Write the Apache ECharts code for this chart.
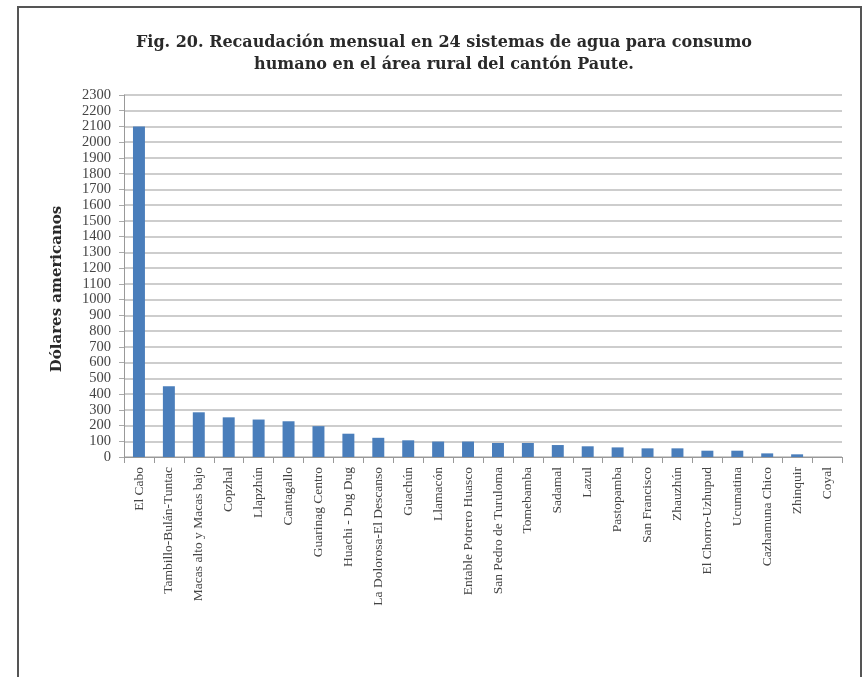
<!DOCTYPE html>
<html>
<head>
<meta charset="utf-8">
<script src="https://cdn.jsdelivr.net/npm/echarts@6/dist/echarts.min.js"></script>
<style>html,body{margin:0;padding:0;background:#fff;}#c{width:863px;height:677px;}</style>
</head>
<body>
<div id="c"></div>
<script>
const categories = ["El Cabo","Tambillo-Bulán-Tuntac","Macas alto y Macas bajo","Copzhal","Llapzhún","Cantagallo","Guarinag Centro","Huachi - Dug Dug","La Dolorosa-El Descanso","Guachún","Llamacón","Entable Potrero Huasco","San Pedro de Turuloma","Tomebamba","Sadamal","Lazul","Pastopamba","San Francisco","Zhauzhún","El Chorro-Uzhupud","Ucumatina","Cazhamuna Chico","Zhinquir","Coyal"];
const values = [2100,450,284,252,238,227,196,148,122,106,98,98,89,89,76,68,61,55,55,40,40,23,17,0];
const yTicks = {min:0, max:2300, interval:100};
const titleLines = ["Fig. 20. Recaudación mensual en 24 sistemas de agua para consumo","humano en el área rural del cantón Paute."];
const yName = "Dólares americanos";

const chart = echarts.init(document.getElementById('c'));
const serif = '"Liberation Serif", "DejaVu Serif", serif';
const wideSerif = '"DejaVu Serif", "Liberation Serif", serif';
chart.setOption({
  animation:false,
  backgroundColor:'#fff',
  title:{
    text: titleLines.join('\n'),
    left:439, textAlign:'center', top:27,
    textStyle:{fontFamily:wideSerif, fontWeight:'bold', fontSize:16, color:'#2a2a2a', lineHeight:22}
  },
  graphic:[
    {type:'rect', shape:{x:18,y:7,width:843,height:720}, style:{fill:'none', stroke:'#555', lineWidth:2}, silent:true},
    {type:'text', x:57, y:289, rotation:Math.PI/2, style:{text:yName, font:'bold 15px ' + wideSerif, fill:'#2a2a2a', align:'center', verticalAlign:'middle'}, silent:true}
  ],
  grid:{left:124, right:21, top:95, bottom:220},
  xAxis:{
    type:'category', data:categories,
    axisLine:{lineStyle:{color:'#999'}},
    axisTick:{show:true, length:6, lineStyle:{color:'#999'}},
    axisLabel:{rotate:90, interval:0, fontFamily:serif, fontSize:13.5, color:'#444', margin:10}
  },
  yAxis:{
    type:'value', min:yTicks.min, max:yTicks.max, interval:yTicks.interval,
    axisLine:{show:true, lineStyle:{color:'#999'}},
    axisTick:{show:true, length:5, lineStyle:{color:'#aaa'}},
    splitLine:{lineStyle:{color:'#bdbdbd', width:1.5}},
    axisLabel:{fontFamily:serif, fontSize:14.5, color:'#444', margin:13,
      formatter:function(v){return String(v);}}
  },
  series:[{type:'bar', data:values, barWidth:'40%', itemStyle:{color:'#4a7ebb'}}]
});
</script>
</body>
</html>
